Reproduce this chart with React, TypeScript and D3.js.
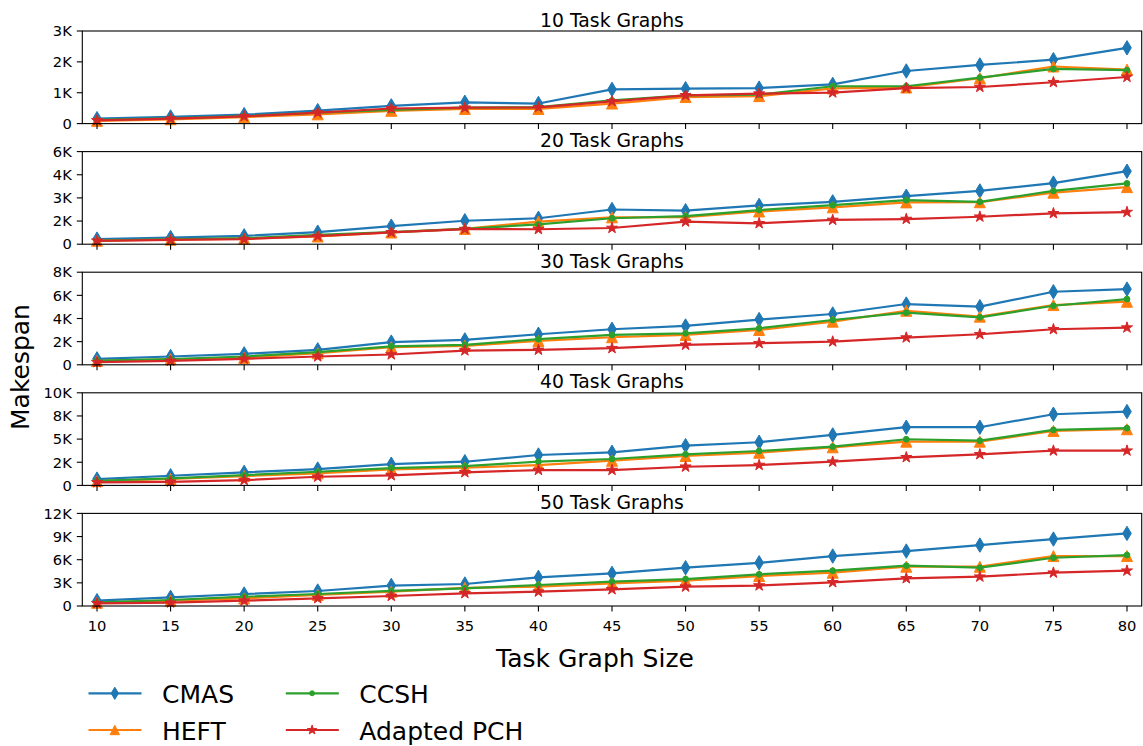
import React from "react";
import * as d3 from "d3";

const sizes = [10, 15, 20, 25, 30, 35, 40, 45, 50, 55, 60, 65, 70, 75, 80];
const seriesNames = ["CMAS", "HEFT", "CCSH", "Adapted PCH"];
const seriesColors = ["#1f77b4", "#ff7f0e", "#2ca02c", "#d62728"];
const panelTitles = ["10 Task Graphs", "20 Task Graphs", "30 Task Graphs", "40 Task Graphs", "50 Task Graphs"];

const p10CMAS = [160, 215, 290, 420, 575, 690, 650, 1110, 1130, 1150, 1270, 1705, 1900, 2070, 2455];
const p10HEFT = [90, 140, 210, 300, 415, 475, 475, 650, 860, 890, 1140, 1170, 1470, 1850, 1750];
const p10CCSH = [120, 170, 245, 355, 445, 515, 535, 750, 915, 940, 1210, 1210, 1490, 1770, 1730];
const p10PCH = [105, 160, 235, 355, 490, 515, 525, 720, 915, 970, 1005, 1150, 1185, 1340, 1510];

const p20CMAS = [330, 430, 540, 780, 1170, 1520, 1680, 2250, 2170, 2510, 2745, 3110, 3450, 3960, 4730];
const p20HEFT = [230, 290, 360, 500, 760, 990, 1460, 1740, 1760, 2120, 2390, 2710, 2720, 3340, 3700];
const p20CCSH = [230, 320, 390, 600, 780, 990, 1290, 1680, 1820, 2210, 2530, 2850, 2745, 3450, 3940];
const p20PCH = [220, 285, 330, 520, 765, 980, 970, 1050, 1460, 1355, 1570, 1630, 1780, 2000, 2080];

const p30CMAS = [516, 717, 946, 1290, 1960, 2150, 2640, 3070, 3355, 3910, 4390, 5250, 5020, 6310, 6540];
const p30HEFT = [330, 480, 600, 1000, 1520, 1640, 2060, 2380, 2580, 3010, 3730, 4670, 4160, 5160, 5450];
const p30CCSH = [370, 500, 717, 1090, 1600, 1720, 2210, 2580, 2720, 3155, 3870, 4500, 4100, 5100, 5680];
const p30PCH = [229, 344, 516, 717, 890, 1233, 1290, 1433, 1720, 1864, 2007, 2350, 2640, 3070, 3210];

const p40CMAS = [683, 1040, 1408, 1766, 2290, 2557, 3283, 3575, 4290, 4659, 5450, 6284, 6284, 7684, 7974];
const p40HEFT = [450, 700, 1008, 1300, 1733, 1907, 2199, 2665, 3174, 3532, 4110, 4724, 4724, 5883, 6064];
const p40CCSH = [500, 758, 1116, 1473, 1870, 2091, 2557, 2849, 3359, 3716, 4182, 4983, 4832, 5991, 6175];
const p40PCH = [325, 390, 574, 932, 1080, 1408, 1658, 1658, 2015, 2199, 2557, 3034, 3359, 3749, 3749];

const p50CMAS = [686, 1122, 1553, 1942, 2650, 2848, 3711, 4229, 4962, 5600, 6472, 7120, 7896, 8673, 9405];
const p50HEFT = [420, 690, 992, 1424, 1855, 2350, 2502, 2934, 3279, 3883, 4315, 5092, 5092, 6472, 6472];
const p50CCSH = [475, 777, 1208, 1553, 1960, 2287, 2718, 3150, 3495, 4100, 4574, 5221, 4962, 6255, 6602];
const p50PCH = [345, 431, 690, 992, 1294, 1640, 1855, 2157, 2502, 2650, 3063, 3581, 3797, 4315, 4574];

const panelSeries = [
  [p10CMAS, p10HEFT, p10CCSH, p10PCH],
  [p20CMAS, p20HEFT, p20CCSH, p20PCH],
  [p30CMAS, p30HEFT, p30CCSH, p30PCH],
  [p40CMAS, p40HEFT, p40CCSH, p40PCH],
  [p50CMAS, p50HEFT, p50CCSH, p50PCH],
];

const yMax = [3000, 6000, 8000, 10000, 12000];
const yTickValues = [
  [0, 1000, 2000, 3000],
  [0, 1500, 3000, 4500, 6000],
  [0, 2000, 4000, 6000, 8000],
  [0, 2500, 5000, 7500, 10000],
  [0, 3000, 6000, 9000, 12000],
];
const yTickLabels = [
  ["0", "1K", "2K", "3K"],
  ["0", "2K", "3K", "4K", "6K"],
  ["0", "2K", "4K", "6K", "8K"],
  ["0", "2K", "5K", "8K", "10K"],
  ["0", "3K", "6K", "9K", "12K"],
];

const FONT = "DejaVu Sans, Verdana, sans-serif";
const W = 1143;
const H = 746;
const left = 82.3;
const right = 1141.7;
const firstTop = 31;
const panelStep = 120.6;
const panelH = 92.6;

function markerPath(kind: number, s: number): string {
  if (kind === 0) {
    const hh = 7.2 * s, hw = 4.3 * s;
    return `M0,${-hh}L${hw},0L0,${hh}L${-hw},0Z`;
  }
  if (kind === 1) {
    const h = 5.5 * s;
    return `M0,${-h}L${h},${h}L${-h},${h}Z`;
  }
  if (kind === 2) {
    const r = 2.9 * s;
    return `M${r},0A${r},${r} 0 1,1 ${-r},0A${r},${r} 0 1,1 ${r},0Z`;
  }
  const ro = 5.8 * s, ri = ro * 0.382;
  let p = "";
  for (let i = 0; i < 10; i++) {
    const r = i % 2 === 0 ? ro : ri;
    const a = -Math.PI / 2 + (i * Math.PI) / 5;
    p += (i === 0 ? "M" : "L") + (r * Math.cos(a)).toFixed(2) + "," + (r * Math.sin(a)).toFixed(2);
  }
  return p + "Z";
}

export default function App() {
  const x = d3.scaleLinear().domain([9, 81]).range([left, right]);
  return (
    <svg width={W} height={H} style={{ position: "absolute", left: 0, top: 0, background: "#fff" }} fontFamily={FONT}>
      <rect x={0} y={0} width={W} height={H} fill="#fff" />
      {panelSeries.map((series, pi) => {
        const top = firstTop + pi * panelStep;
        const bottom = top + panelH;
        const y = d3.scaleLinear().domain([0, yMax[pi]]).range([bottom, top]);
        const line = d3
          .line<number>()
          .x((_, i) => x(sizes[i]))
          .y((v) => y(v));
        return (
          <g key={pi}>
            <text x={(left + right) / 2} y={top - 4.5} fontSize={18.8} textAnchor="middle" fill="#000">
              {panelTitles[pi]}
            </text>
            {series.map((vals, si) => (
              <g key={si}>
                <path d={line(vals) || ""} fill="none" stroke={seriesColors[si]} strokeWidth={2.2} strokeLinejoin="round" />
                {vals.map((v, i) => (
                  <path
                    key={i}
                    d={markerPath(si, 1)}
                    transform={`translate(${x(sizes[i])},${y(v)})`}
                    fill={seriesColors[si]}
                    stroke={seriesColors[si]}
                    strokeWidth={1}
                    strokeLinejoin="miter"
                  />
                ))}
              </g>
            ))}
            <rect x={left} y={top} width={right - left} height={panelH} fill="none" stroke="#000" strokeWidth={1.1} />
            {yTickValues[pi].map((t, ti) => (
              <g key={ti}>
                <line x1={left - 5.5} x2={left} y1={y(t)} y2={y(t)} stroke="#000" strokeWidth={1.1} />
                <text x={left - 10.5} y={y(t)} dy="0.36em" fontSize={14.7} textAnchor="end" fill="#000">
                  {yTickLabels[pi][ti]}
                </text>
              </g>
            ))}
            {sizes.map((s) => (
              <g key={s}>
                <line x1={x(s)} x2={x(s)} y1={bottom} y2={bottom + 5.5} stroke="#000" strokeWidth={1.1} />
                {pi === panelSeries.length - 1 && (
                  <text x={x(s)} y={bottom + 25} fontSize={14.7} textAnchor="middle" fill="#000">
                    {s}
                  </text>
                )}
              </g>
            ))}
          </g>
        );
      })}
      <text
        transform={`translate(28.5,367) rotate(-90)`}
        fontSize={25}
        textAnchor="middle"
        fill="#000"
      >
        Makespan
      </text>
      <text x={595} y={667} fontSize={25} textAnchor="middle" fill="#000">
        Task Graph Size
      </text>
      {seriesNames.map((name, si) => {
        const col = Math.floor(si / 2);
        const row = si % 2;
        const lx = col === 0 ? 88.5 : 285.8;
        const ly = row === 0 ? 693.3 : 730;
        return (
          <g key={name}>
            <line x1={lx} x2={lx + 53} y1={ly} y2={ly} stroke={seriesColors[si]} strokeWidth={2.2} />
            <path
              d={markerPath(si, 0.85)}
              transform={`translate(${lx + 26.3},${ly})`}
              fill={seriesColors[si]}
              stroke={seriesColors[si]}
              strokeWidth={1}
            />
            <text x={lx + 73.5} y={ly + 9.5} fontSize={25} fill="#000">
              {name}
            </text>
          </g>
        );
      })}
    </svg>
  );
}
